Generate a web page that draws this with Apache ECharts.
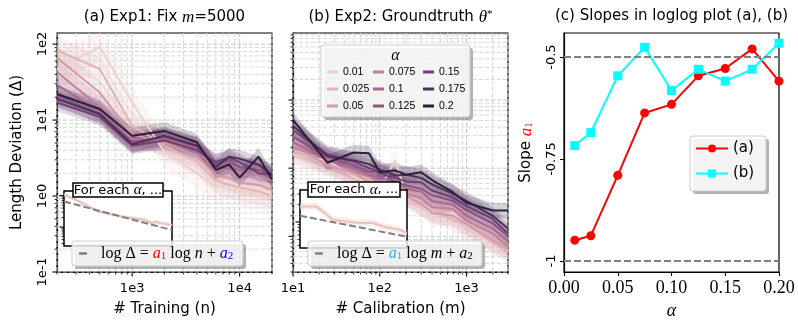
<!DOCTYPE html>
<html>
<head>
<meta charset="utf-8">
<script src="https://cdn.jsdelivr.net/npm/echarts@6/dist/echarts.min.js"></script>
<style>
  html, body { margin: 0; padding: 0; background: #fff; }
  #chart { width: 798px; height: 333px; }
</style>
</head>
<body>
<div id="chart"></div>
<script>
const SANS = 'DejaVu Sans';
const SERIF = 'Liberation Serif';

// alpha levels and their colours (seaborn cubehelix, light -> dark)
const alphaLabels = ['0.01', '0.025', '0.05', '0.075', '0.1', '0.125', '0.15', '0.175', '0.2'];
const alphaVals = [0.01, 0.025, 0.05, 0.075, 0.1, 0.125, 0.15, 0.175, 0.2];
const palette = ['#edd1cb', '#e2b5b6', '#d499a7', '#c17f9a', '#aa678f', '#8d5282', '#6e4071', '#4d2f5b', '#2d1e3e'];

// (a) Exp1: length deviation vs # training
const nTrain = [200, 500, 1000, 2000, 4000, 6000, 8000, 10000, 15000, 20000];
const trainA001  = [47, 92, 17, 3.8, 2.0, 1.3, 1.5, 1.2, 1.0, 1.05];
const trainA0025 = [83, 47, 8.5, 4.6, 2.8, 1.6, 1.4, 1.3, 1.15, 1.0];
const trainA005  = [66, 23, 6.5, 5.0, 3.4, 1.9, 1.7, 1.5, 1.4, 1.2];
const trainA0075 = [43, 15, 5.6, 5.4, 4.0, 2.1, 2.5, 2.0, 1.9, 1.6];
const trainA01   = [29, 13, 5.0, 5.8, 4.3, 2.4, 2.3, 2.2, 2.5, 1.8];
const trainA0125 = [21, 12, 5.2, 6.0, 4.5, 2.6, 3.0, 2.4, 2.2, 2.0];
const trainA015  = [17, 11, 4.6, 5.4, 4.0, 2.8, 3.2, 2.8, 2.0, 1.9];
const trainA0175 = [19, 12, 4.8, 6.2, 4.6, 2.4, 3.3, 3.1, 2.6, 1.9];
const trainA02   = [22, 14, 6.2, 7.2, 5.1, 2.2, 2.6, 1.75, 3.3, 1.65];
const trainRows = [trainA001, trainA0025, trainA005, trainA0075, trainA01, trainA0125, trainA015, trainA0175, trainA02];
const trainSpread = [1.6, 1.5, 1.45, 1.4, 1.35, 1.35, 1.3, 1.3, 1.3];

// (b) Exp2: length deviation vs # calibration
const mCalib = [10, 25, 50, 75, 100, 150, 200, 300, 400, 700, 1000, 2000, 3000];
const calibA001  = [1.6, 1.3, 0.75, 0.6, 0.48, 1.3, 0.42, 0.3, 0.2, 0.22, 0.14, 0.079, 0.07];
const calibA0025 = [1.7, 1.2, 0.8, 0.7, 0.5, 0.6, 0.38, 0.28, 0.25, 0.17, 0.15, 0.08, 0.06];
const calibA005  = [2.2, 1.1, 0.85, 0.62, 0.55, 0.45, 0.4, 0.3, 0.22, 0.2, 0.15, 0.087, 0.065];
const calibA0075 = [2.0, 1.4, 0.9, 0.75, 0.62, 0.55, 0.42, 0.36, 0.27, 0.25, 0.17, 0.11, 0.07];
const calibA01   = [2.4, 1.3, 1.0, 0.8, 0.7, 0.66, 0.5, 0.45, 0.33, 0.29, 0.2, 0.13, 0.085];
const calibA0125 = [2.9, 1.45, 1.1, 0.88, 0.92, 0.62, 0.56, 0.5, 0.4, 0.33, 0.24, 0.155, 0.1];
const calibA015  = [3.6, 1.6, 1.25, 1.0, 0.85, 0.72, 0.64, 0.62, 0.47, 0.37, 0.28, 0.18, 0.11];
const calibA0175 = [4.2, 1.5, 1.3, 1.15, 0.95, 0.78, 0.8, 0.72, 0.58, 0.42, 0.33, 0.2, 0.13];
const calibA02   = [5.1, 1.2, 1.7, 1.65, 0.87, 0.93, 0.8, 0.87, 0.67, 0.44, 0.31, 0.24, 0.24];
const calibRows = [calibA001, calibA0025, calibA005, calibA0075, calibA01, calibA0125, calibA015, calibA0175, calibA02];
const calibSpread = [1.5, 1.45, 1.45, 1.4, 1.4, 1.35, 1.35, 1.35, 1.3];

// (c) fitted slopes
const slopeA = [-0.949, -0.938, -0.790, -0.637, -0.616, -0.546, -0.528, -0.480, -0.559];
const slopeB = [-0.717, -0.685, -0.546, -0.476, -0.582, -0.530, -0.559, -0.530, -0.466];

// insets: one alpha with its loglog fit
const insetAx = [200, 330, 870, 2400, 6300, 8700, 9800, 13000, 20000];
const insetAy = [10.8, 7.4, 3.1, 2.15, 1.68, 1.32, 1.48, 1.32, 1.16];
const insetAfitX = [200, 20000];
const insetAfitY = [6.5, 0.8];
const insetBx = [10, 24, 59, 205, 480, 900, 2100, 3000];
const insetBy = [1.84, 1.84, 1.08, 0.97, 0.96, 0.83, 0.73, 0.64];
const insetBfitX = [10, 3000];
const insetBfitY = [1.28, 0.56];

const logLabel = v => '1e' + Math.round(Math.log10(v));

// 1..9 x 10^k marks inside [min, max], flag 1 for the decades
function logMarks(min, max) {
  const out = [];
  for (let e = Math.floor(Math.log10(min)); e <= Math.ceil(Math.log10(max)); e++) {
    for (let d = 1; d <= 9; d++) {
      const v = d * Math.pow(10, e);
      if (v >= min * 0.9999 && v <= max * 1.0001) out.push([v, d === 1 ? 1 : 0]);
    }
  }
  return out;
}

// dashed grid lines + outside tick marks for a log grid
function markSeries(gi, xr, yr, opts) {
  const data = [];
  if (opts.xTicks) logMarks(xr[0], xr[1]).forEach(([v, mj]) => data.push([v, yr[0], mj, 0]));
  logMarks(yr[0], yr[1]).forEach(([v, mj]) => data.push([xr[0], v, mj, 1]));
  return {
    type: 'custom', xAxisIndex: gi, yAxisIndex: gi, silent: true, z: opts.z,
    data: data, encode: { x: 0, y: 1 },
    renderItem: function (params, api) {
      const cs = params.coordSys;
      const major = api.value(2) === 1;
      const isY = api.value(3) === 1;
      const p = api.coord([api.value(0), api.value(1)]);
      const len = major ? 4.5 : 2.5;
      const tick = { stroke: '#000', lineWidth: major ? 1.1 : 0.8 };
      const grid = { stroke: major ? '#c6c6c6' : '#d8d8d8', lineWidth: 1, lineDash: [4, 2] };
      const kids = [];
      if (isY) {
        if (opts.grid) kids.push({ type: 'line', shape: { x1: cs.x, y1: p[1], x2: cs.x + cs.width, y2: p[1] }, style: grid });
        kids.push({ type: 'line', shape: { x1: cs.x - len, y1: p[1], x2: cs.x, y2: p[1] }, style: tick });
      } else {
        if (opts.grid) kids.push({ type: 'line', shape: { x1: p[0], y1: cs.y, x2: p[0], y2: cs.y + cs.height }, style: grid });
        kids.push({ type: 'line', shape: { x1: p[0], y1: cs.y + cs.height, x2: p[0], y2: cs.y + cs.height + len }, style: tick });
      }
      return { type: 'group', children: kids };
    }
  };
}

// shaded spread band drawn as one polygon through the axes
function bandSeries(gi, xs, lo, hi, color, opacity, z) {
  return {
    type: 'custom', xAxisIndex: gi, yAxisIndex: gi, silent: true, z: z, clip: true,
    data: xs.map((x, k) => [x, lo[k], hi[k]]), encode: { x: 0, y: [1, 2] },
    renderItem: function (params, api) {
      if (params.dataIndex !== 0) return null;
      const top = xs.map((x, k) => api.coord([x, hi[k]]));
      const bot = xs.map((x, k) => api.coord([x, lo[k]])).reverse();
      return { type: 'polygon', shape: { points: top.concat(bot) }, style: { fill: color, opacity: opacity } };
    }
  };
}

const series = [];

function addBandLines(gi, xs, rows, spreads) {
  rows.forEach((row, i) => {
    const f = spreads[i];
    series.push(bandSeries(gi, xs, row.map(v => v / f), row.map(v => v * f), palette[i], 0.2, 2));
    series.push({
      name: alphaLabels[i], type: 'line', xAxisIndex: gi, yAxisIndex: gi,
      data: xs.map((x, k) => [x, row[k]]), symbol: 'none', color: palette[i],
      lineStyle: { width: 2, color: palette[i] }, z: 2
    });
  });
}

series.push(markSeries(0, [200, 20000], [0.1, 140], { xTicks: true, grid: true, z: 1 }));
series.push(markSeries(1, [10, 3000], [0.03, 96], { xTicks: true, grid: true, z: 1 }));
addBandLines(0, nTrain, trainRows, trainSpread);
addBandLines(1, mCalib, calibRows, calibSpread);

// insets
function addInset(gi, xs, ys, fx, fy, xr, yr) {
  series.push(markSeries(gi, xr, yr, { xTicks: false, grid: false, z: 4 }));
  series.push(bandSeries(gi, xs, ys.map(v => v / 1.15), ys.map(v => v * 1.15), palette[0], 0.4, 4));
  series.push({
    name: 'in' + gi, type: 'line', xAxisIndex: gi, yAxisIndex: gi, silent: true,
    data: xs.map((x, k) => [x, ys[k]]), symbol: 'none',
    lineStyle: { width: 2, color: '#e9c3bb' }, z: 4
  });
  series.push({
    name: 'fit' + gi, type: 'line', xAxisIndex: gi, yAxisIndex: gi, silent: true,
    data: fx.map((x, k) => [x, fy[k]]), symbol: 'none',
    lineStyle: { width: 2, color: '#808080', type: [7, 3] }, z: 4
  });
}
addInset(3, insetAx, insetAy, insetAfitX, insetAfitY, [200, 20000], [0.25, 14]);
addInset(4, insetBx, insetBy, insetBfitX, insetBfitY, [10, 3000], [0.36, 3.5]);

// (c) slopes
series.push({
  name: '(a)', type: 'line', xAxisIndex: 2, yAxisIndex: 2, color: '#ff0000',
  data: alphaVals.map((a, k) => [a, slopeA[k]]), symbol: 'circle', symbolSize: 9,
  lineStyle: { width: 2, color: '#ff0000' }, itemStyle: { color: '#ff0000' }, z: 3,
  markLine: {
    silent: true, symbol: ['none', 'none'], label: { show: false },
    lineStyle: { color: '#808080', width: 2, type: [7, 3] },
    data: [{ yAxis: -0.5 }, { yAxis: -1 }]
  }
});
series.push({
  name: '(b)', type: 'line', xAxisIndex: 2, yAxisIndex: 2, color: '#00ffff',
  data: alphaVals.map((a, k) => [a, slopeB[k]]), symbol: 'rect', symbolSize: 9,
  lineStyle: { width: 2, color: '#00ffff' }, itemStyle: { color: '#00ffff' }, z: 3
});

const mainGrid = { show: true, borderColor: '#000', borderWidth: 1.2, top: 33, width: 215, height: 239 };
const blackLine = { show: true, lineStyle: { color: '#000', width: 1.2 } };
const tickLbl = { color: '#000', fontSize: 13, fontFamily: SANS };

function logX(gi, min, max, labels, name) {
  return {
    type: 'log', gridIndex: gi, min: min, max: max, axisLine: blackLine, axisTick: { show: false },
    splitLine: { show: false }, minorTick: { show: false },
    axisLabel: Object.assign({ customValues: labels, formatter: logLabel, margin: 10 }, tickLbl),
    name: name, nameLocation: 'middle', nameGap: 30,
    nameTextStyle: { color: '#000', fontSize: 15, fontFamily: SANS }
  };
}
function logY(gi, min, max, labels, name) {
  return {
    type: 'log', gridIndex: gi, min: min, max: max, axisLine: blackLine, axisTick: { show: false },
    splitLine: { show: false },
    axisLabel: Object.assign({ show: labels.length > 0, customValues: labels, formatter: logLabel, rotate: 90, margin: 8 }, tickLbl),
    name: name, nameLocation: 'middle', nameGap: 32,
    nameTextStyle: { color: '#000', fontSize: 15, fontFamily: SANS }
  };
}
const hiddenLog = (gi, min, max) => ({ type: 'log', gridIndex: gi, min: min, max: max, show: false, splitLine: { show: false } });

const titleBase = { top: 9, padding: 0, textAlign: 'center' };
const titleStyle = {
  color: '#000', fontSize: 15, fontFamily: SANS, fontWeight: 'normal',
  rich: {
    it: { fontFamily: SERIF, fontStyle: 'italic', fontSize: 17, color: '#000' },
    sup: { fontFamily: SERIF, fontSize: 11, color: '#000', verticalAlign: 'top', lineHeight: 12 }
  }
};

function shadowBox(x, y, w, h, alpha) {
  return [
    { type: 'rect', z: 6, silent: true, shape: { x: x + 3, y: y + 3, width: w, height: h, r: 3 }, style: { fill: 'rgba(0,0,0,0.3)' } },
    { type: 'rect', z: 7, silent: true, shape: { x: x, y: y, width: w, height: h, r: 3 }, style: { fill: 'rgba(255,255,255,' + alpha + ')', stroke: '#cccccc', lineWidth: 1 } }
  ];
}
function labelBox(x, y, w, h) {
  return [
    { type: 'rect', z: 7, silent: true, shape: { x: x, y: y, width: w, height: h }, style: { fill: '#fff', stroke: '#000', lineWidth: 1.5 } },
    {
      type: 'text', z: 8, silent: true, x: x + w / 2, y: y + h / 2 + 0.5,
      style: {
        text: '{t|For each }{g|α}{t|, ...}', align: 'center', verticalAlign: 'middle',
        rich: {
          t: { fontSize: 13, fontFamily: SANS, fill: '#000' },
          g: { fontSize: 15, fontFamily: SERIF, fontStyle: 'italic', fill: '#000' }
        }
      }
    }
  ];
}
function formula(x, y, text, c1, c2) {
  const base = { fontSize: 16, fontFamily: SERIF, fill: '#000' };
  return [
    { type: 'line', z: 8, silent: true, shape: { x1: x - 22, y1: y, x2: x - 14, y2: y }, style: { stroke: '#808080', lineWidth: 2.5 } },
    {
      type: 'text', z: 8, silent: true, x: x, y: y,
      style: {
        text: text, align: 'left', verticalAlign: 'middle',
        rich: {
          t: base,
          i: Object.assign({}, base, { fontStyle: 'italic' }),
          a1: Object.assign({}, base, { fontStyle: 'italic', fill: c1 }),
          s1: { fontSize: 11, fontFamily: SERIF, fill: c1, verticalAlign: 'bottom', lineHeight: 11 },
          a2: Object.assign({}, base, { fontStyle: 'italic', fill: c2 }),
          s2: { fontSize: 11, fontFamily: SERIF, fill: c2, verticalAlign: 'bottom', lineHeight: 11 }
        }
      }
    }
  ];
}

const legendBase = {
  orient: 'vertical', icon: 'rect', itemWidth: 11, itemHeight: 3, itemGap: 3, padding: 0,
  selectedMode: false, z: 10, top: 65,
  textStyle: { color: '#000', fontSize: 10.5, fontFamily: 'Liberation Sans', lineHeight: 14 }
};

const option = {
  animation: false,
  backgroundColor: '#fff',
  title: [
    Object.assign({ left: 164.5, text: '(a) Exp1: Fix {it|m}=5000', textStyle: titleStyle }, titleBase),
    Object.assign({ left: 400.5, text: '(b) Exp2: Groundtruth {it|θ}{sup|*}', textStyle: titleStyle }, titleBase),
    Object.assign({ left: 671.5, text: '(c) Slopes in loglog plot (a), (b)', textStyle: titleStyle }, titleBase)
  ],
  grid: [
    Object.assign({ left: 57 }, mainGrid),
    Object.assign({ left: 293 }, mainGrid),
    Object.assign({ left: 564 }, mainGrid),
    { left: 64, top: 191, width: 108, height: 55, show: true, backgroundColor: '#fff', borderColor: '#000', borderWidth: 1.5, z: 3 },
    { left: 300, top: 190, width: 107, height: 58, show: true, backgroundColor: '#fff', borderColor: '#000', borderWidth: 1.5, z: 3 }
  ],
  xAxis: [
    logX(0, 200, 20000, [1000, 10000], '# Training (n)'),
    logX(1, 10, 3000, [10, 100, 1000], '# Calibration (m)'),
    {
      type: 'value', gridIndex: 2, min: 0, max: 0.2, interval: 0.05, axisLine: blackLine,
      axisTick: { show: true, length: 4, lineStyle: { color: '#000', width: 1.1 } },
      splitLine: { show: false },
      axisLabel: { color: '#000', fontSize: 18, fontFamily: SERIF, margin: 7, formatter: v => v.toFixed(2) },
      name: 'α', nameLocation: 'middle', nameGap: 25,
      nameTextStyle: { color: '#000', fontSize: 18, fontFamily: SERIF, fontStyle: 'italic' }
    },
    hiddenLog(3, 200, 20000),
    hiddenLog(4, 10, 3000)
  ],
  yAxis: [
    logY(0, 0.1, 140, [0.1, 1, 10, 100], 'Length Deviation (Δ)'),
    logY(1, 0.03, 96, [], ''),
    {
      type: 'value', gridIndex: 2, min: -1.027, max: -0.441, axisLine: blackLine,
      axisTick: { show: true, length: 4, customValues: [-1, -0.75, -0.5], lineStyle: { color: '#000', width: 1.1 } },
      splitLine: { show: false },
      axisLabel: Object.assign({ customValues: [-1, -0.75, -0.5], rotate: 90, margin: 6, formatter: v => String(v) }, tickLbl),
      name: '{s|Slope }{a|a}{sub|1}', nameLocation: 'middle', nameGap: 29,
      nameTextStyle: {
        color: '#000', fontSize: 15, fontFamily: SANS,
        rich: {
          s: { fontSize: 15, fontFamily: SANS, color: '#000' },
          a: { fontSize: 17, fontFamily: SERIF, fontStyle: 'italic', color: '#ff0000' },
          sub: { fontSize: 11, fontFamily: SERIF, color: '#ff0000', verticalAlign: 'bottom', lineHeight: 11 }
        }
      }
    },
    hiddenLog(3, 0.25, 14),
    hiddenLog(4, 0.36, 3.5)
  ],
  legend: [
    Object.assign({ data: alphaLabels.slice(0, 3), left: 327 }, legendBase),
    Object.assign({ data: alphaLabels.slice(3, 6), left: 373 }, legendBase),
    Object.assign({ data: alphaLabels.slice(6, 9), left: 423 }, legendBase),
    {
      data: ['(a)', '(b)'], orient: 'vertical', left: 695, top: 141, itemWidth: 32, itemHeight: 10,
      itemGap: 10, padding: 0, selectedMode: false, z: 10,
      textStyle: { color: '#000', fontSize: 15, fontFamily: SANS, lineHeight: 15 }
    }
  ],
  graphic: [].concat(
    shadowBox(321, 45, 149, 72, 0.85),
    [{ type: 'text', z: 8, silent: true, x: 395.5, y: 56, style: { text: 'α', align: 'center', verticalAlign: 'middle', fontSize: 16, fontFamily: SERIF, fontStyle: 'italic', fill: '#000' } }],
    shadowBox(690, 136, 76, 55, 0.85),
    shadowBox(72, 241, 171, 25, 0.8),
    shadowBox(308, 241, 174, 25, 0.8),
    labelBox(73, 183, 90, 14),
    labelBox(308, 182, 92, 15),
    formula(101, 253.5, '{t|log Δ = }{a1|a}{s1|1}{t| log }{i|n}{t| + }{a2|a}{s2|2}', '#ff0000', '#0000ff'),
    formula(337, 253.5, '{t|log Δ = }{a1|a}{s1|1}{t| log }{i|m}{t| + }{a2|a}{s2|2}', '#1fb4e6', '#000000')
  ),
  series: series
};

const chart = echarts.init(document.getElementById('chart'));
chart.setOption(option);
</script>
</body>
</html>
